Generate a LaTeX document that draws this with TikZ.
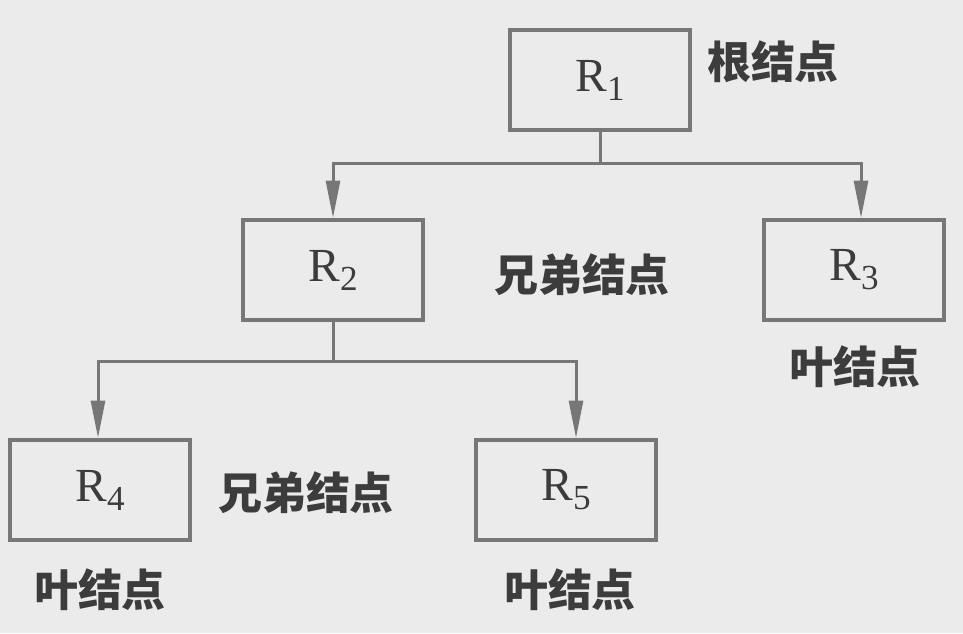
\documentclass[tikz,border=0pt]{standalone}
\usepackage{fontspec}
\setmainfont{Liberation Serif}
\newfontfamily\cjk{Noto Sans CJK SC}
\usetikzlibrary{arrows.meta}
\definecolor{scanbg}{HTML}{EBEBEB}
\definecolor{ink}{HTML}{3C3C3C}
\definecolor{wire}{HTML}{777777}
\newcommand{\rsub}[1]{R\raisebox{-0.18cm}{\fontsize{20}{22}\selectfont #1}}
\begin{document}
\begin{tikzpicture}
        \tikzstyle{rec}=[rectangle, draw=wire, line width=0.08cm, fill=scanbg, minimum width=3.6cm, minimum height=2.0cm, text=ink, font=\fontsize{27}{30}\selectfont]
        \tikzstyle{tag}=[text=ink, font=\cjk\bfseries\fontsize{25}{30}\selectfont, inner sep=0pt]
        \tikzstyle{edge}=[wire, line width=0.06cm, -{Triangle[length=0.75cm, width=0.28cm]}]

        \fill[scanbg] (0,0) rectangle (19.26,-12.66);
        \useasboundingbox (0,0) rectangle (19.26,-12.66);

        \node[rec] (r1) at (12.0,-1.6)  {\rsub{1}};
        \node[rec] (r2) at (6.66,-5.4)  {\rsub{2}};
        \node[rec] (r3) at (17.08,-5.4) {\rsub{3}};
        \node[rec] (r4) at (2.0,-9.8)   {\rsub{4}};
        \node[rec] (r5) at (11.32,-9.8) {\rsub{5}};

        \node[tag] (root)  at (15.46,-1.24) {根结点};
        \node[tag] (sib1)  at (11.64,-5.5)  {兄弟结点};
        \node[tag] (sib2)  at (6.12,-9.86)  {兄弟结点};
        \node[tag] (leaf3) at (17.1,-7.34)  {叶结点};
        \node[tag] (leaf4) at (2.0,-11.8)   {叶结点};
        \node[tag] (leaf5) at (11.4,-11.8)  {叶结点};

        \coordinate (j1) at (12.0,-3.26);
        \coordinate (j2) at (6.66,-7.22);

        \draw[wire, line width=0.06cm] (r1.south) -- (j1);
        \draw[edge] (j1) -| (r2.north);
        \draw[edge] (j1) -| ([xshift=0.14cm]r3.north);

        \draw[wire, line width=0.06cm] (r2.south) -- (j2);
        \draw[edge] (j2) -| ([xshift=-0.04cm]r4.north);
        \draw[edge] (j2) -| ([xshift=0.2cm]r5.north);
    \end{tikzpicture}
\end{document}
